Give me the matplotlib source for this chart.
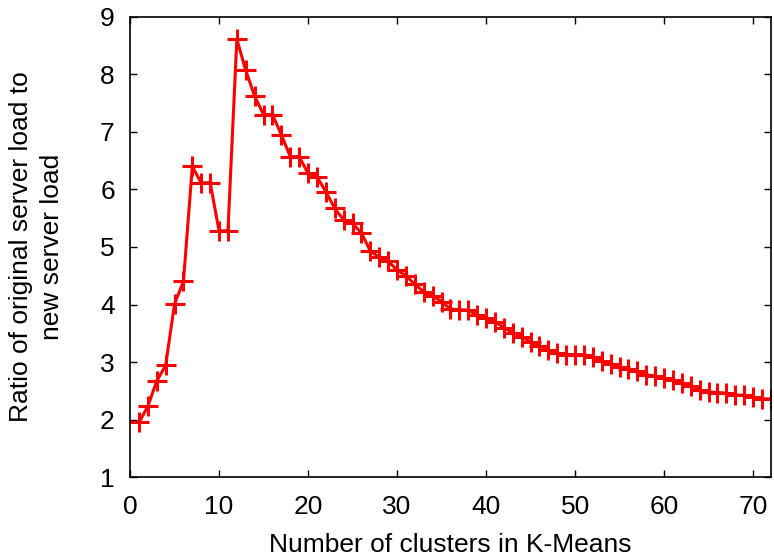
import matplotlib
matplotlib.use("Agg")
import matplotlib.pyplot as plt

# number of clusters and the measured load ratio
clusters = list(range(1, 73))
ratio = [
    1.95, 2.23, 2.67, 2.94, 4.01, 4.40, 6.40, 6.11, 6.12, 5.28,
    5.28, 8.61, 8.07, 7.62, 7.30, 7.30, 6.95, 6.57, 6.57, 6.28,
    6.22, 5.96, 5.67, 5.47, 5.41, 5.24, 4.93, 4.82, 4.75, 4.60,
    4.50, 4.35, 4.22, 4.15, 4.05, 3.92, 3.91, 3.90, 3.82, 3.76,
    3.70, 3.60, 3.51, 3.44, 3.35, 3.28, 3.21, 3.15, 3.13, 3.13,
    3.13, 3.09, 3.02, 2.97, 2.92, 2.88, 2.84, 2.78, 2.75, 2.72,
    2.68, 2.64, 2.58, 2.51, 2.48, 2.47, 2.46, 2.43, 2.42, 2.39,
    2.36, 2.36,
]
x_ticks = [0, 10, 20, 30, 40, 50, 60, 70]
y_ticks = [1, 2, 3, 4, 5, 6, 7, 8, 9]

plt.rcParams["font.family"] = ["Liberation Sans", "DejaVu Sans"]
plt.rcParams["font.size"] = 19

fig = plt.figure(figsize=(7.74, 5.6), dpi=100)
ax = fig.add_axes([0.168, 0.148, 0.828, 0.822])

ax.plot(clusters, ratio, color="#ff0000", linewidth=2.2, marker="+",
        markersize=15, markeredgewidth=2.2)

ax.set_xlim(0, 72)
ax.set_ylim(1, 9)
ax.set_xticks(x_ticks)
ax.set_yticks(y_ticks)
ax.tick_params(direction="in", top=True, right=True, length=5, width=1,
               labelsize=19)
ax.tick_params(axis="x", pad=13)
ax.tick_params(axis="y", pad=11)
for s in ax.spines.values():
    s.set_linewidth(1.2)

ax.set_xlabel("Number of clusters in K-Means", labelpad=10)
ax.set_ylabel("Ratio of original server load to\nnew server load",
              labelpad=26, linespacing=1.35)

fig.savefig("out.png", dpi=100)
